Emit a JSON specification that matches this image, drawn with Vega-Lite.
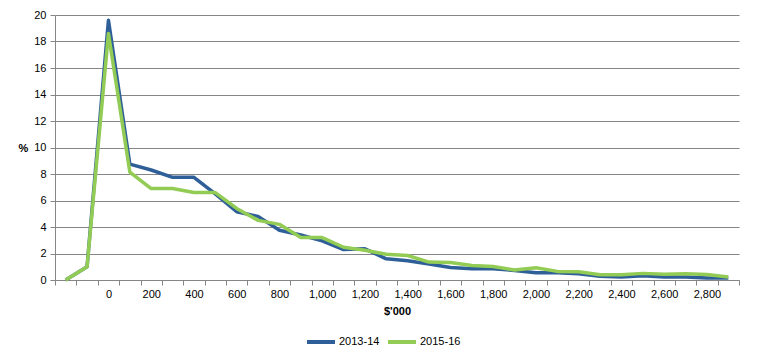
{
  "$schema": "https://vega.github.io/schema/vega-lite/v6.json",
  "width": 684,
  "height": 265,
  "autosize": {"type": "none"},
  "padding": {"left": 55, "top": 15, "right": 18, "bottom": 80},
  "background": "white",
  "config": {
    "font": "Liberation Sans",
    "view": {"stroke": null},
    "axis": {"labelFont": "Liberation Sans", "labelFontSize": 11, "labelColor": "#000000", "domainColor": "#868686", "tickColor": "#868686", "titleFont": "Liberation Sans", "titleFontSize": 11, "titleColor": "#000000", "labelOverlap": false}
  },
  "data": {
    "values": [
      {"x": -200, "series": "2013-14", "v": 0},
      {"x": -100, "series": "2013-14", "v": 1.0},
      {"x": 0, "series": "2013-14", "v": 19.6},
      {"x": 100, "series": "2013-14", "v": 8.75},
      {"x": 200, "series": "2013-14", "v": 8.3},
      {"x": 300, "series": "2013-14", "v": 7.75},
      {"x": 400, "series": "2013-14", "v": 7.75},
      {"x": 500, "series": "2013-14", "v": 6.5},
      {"x": 600, "series": "2013-14", "v": 5.15},
      {"x": 700, "series": "2013-14", "v": 4.8},
      {"x": 800, "series": "2013-14", "v": 3.75},
      {"x": 900, "series": "2013-14", "v": 3.4},
      {"x": 1000, "series": "2013-14", "v": 2.95},
      {"x": 1100, "series": "2013-14", "v": 2.3},
      {"x": 1200, "series": "2013-14", "v": 2.35},
      {"x": 1300, "series": "2013-14", "v": 1.6},
      {"x": 1400, "series": "2013-14", "v": 1.45},
      {"x": 1500, "series": "2013-14", "v": 1.2},
      {"x": 1600, "series": "2013-14", "v": 0.95},
      {"x": 1700, "series": "2013-14", "v": 0.85},
      {"x": 1800, "series": "2013-14", "v": 0.85},
      {"x": 1900, "series": "2013-14", "v": 0.72},
      {"x": 2000, "series": "2013-14", "v": 0.55},
      {"x": 2100, "series": "2013-14", "v": 0.55},
      {"x": 2200, "series": "2013-14", "v": 0.48},
      {"x": 2300, "series": "2013-14", "v": 0.28},
      {"x": 2400, "series": "2013-14", "v": 0.22},
      {"x": 2500, "series": "2013-14", "v": 0.32},
      {"x": 2600, "series": "2013-14", "v": 0.22},
      {"x": 2700, "series": "2013-14", "v": 0.22},
      {"x": 2800, "series": "2013-14", "v": 0.15},
      {"x": 2900, "series": "2013-14", "v": 0.15},
      {"x": -200, "series": "2015-16", "v": 0},
      {"x": -100, "series": "2015-16", "v": 1.0},
      {"x": 0, "series": "2015-16", "v": 18.6},
      {"x": 100, "series": "2015-16", "v": 8.15},
      {"x": 200, "series": "2015-16", "v": 6.9},
      {"x": 300, "series": "2015-16", "v": 6.9},
      {"x": 400, "series": "2015-16", "v": 6.6},
      {"x": 500, "series": "2015-16", "v": 6.6},
      {"x": 600, "series": "2015-16", "v": 5.4},
      {"x": 700, "series": "2015-16", "v": 4.5},
      {"x": 800, "series": "2015-16", "v": 4.2},
      {"x": 900, "series": "2015-16", "v": 3.2},
      {"x": 1000, "series": "2015-16", "v": 3.2},
      {"x": 1100, "series": "2015-16", "v": 2.47},
      {"x": 1200, "series": "2015-16", "v": 2.25},
      {"x": 1300, "series": "2015-16", "v": 1.95},
      {"x": 1400, "series": "2015-16", "v": 1.85},
      {"x": 1500, "series": "2015-16", "v": 1.35},
      {"x": 1600, "series": "2015-16", "v": 1.32},
      {"x": 1700, "series": "2015-16", "v": 1.1},
      {"x": 1800, "series": "2015-16", "v": 1.02},
      {"x": 1900, "series": "2015-16", "v": 0.75},
      {"x": 2000, "series": "2015-16", "v": 0.93},
      {"x": 2100, "series": "2015-16", "v": 0.65},
      {"x": 2200, "series": "2015-16", "v": 0.63},
      {"x": 2300, "series": "2015-16", "v": 0.4},
      {"x": 2400, "series": "2015-16", "v": 0.4},
      {"x": 2500, "series": "2015-16", "v": 0.5},
      {"x": 2600, "series": "2015-16", "v": 0.43},
      {"x": 2700, "series": "2015-16", "v": 0.48},
      {"x": 2800, "series": "2015-16", "v": 0.42},
      {"x": 2900, "series": "2015-16", "v": 0.23}
    ]
  },
  "layer": [
    {
      "mark": {"type": "line", "strokeWidth": 3.5, "strokeJoin": "round"},
      "encoding": {
        "x": {
          "field": "x", "type": "quantitative",
          "scale": {"domain": [-250, 2950], "nice": false, "zero": false},
          "axis": {
            "values": [-250,-150,-50,50,150,250,350,450,550,650,750,850,950,1050,1150,1250,1350,1450,1550,1650,1750,1850,1950,2050,2150,2250,2350,2450,2550,2650,2750,2850,2950],
            "labels": false, "tickSize": 5, "grid": false, "title": null
          }
        },
        "y": {
          "field": "v", "type": "quantitative",
          "scale": {"domain": [0, 20], "nice": false},
          "axis": {
            "values": [0,2,4,6,8,10,12,14,16,18,20],
            "grid": true, "gridColor": "#868686", "gridWidth": 1,
            "tickSize": 5, "labelPadding": 4, "format": "d",
            "title": "%", "titleAngle": 0, "titleFontWeight": "bold",
            "titleX": -32, "titleY": 133, "titleBaseline": "middle", "titleAlign": "center"
          }
        },
        "color": {
          "field": "series", "type": "nominal",
          "scale": {"domain": ["2013-14", "2015-16"], "range": ["#2F5F98", "#92CC55"]},
          "legend": {
            "orient": "none", "legendX": 250, "legendY": 311,
            "direction": "horizontal", "title": null,
            "symbolType": "stroke", "symbolSize": 784, "symbolStrokeWidth": 4,
            "labelFont": "Liberation Sans", "labelFontSize": 11, "labelColor": "#000000",
            "columnPadding": 0, "labelOffset": 2
          }
        }
      }
    },
    {
      "mark": {"type": "line", "opacity": 0},
      "encoding": {
        "x": {
          "field": "x", "type": "quantitative",
          "axis": {
            "orient": "bottom",
            "values": [0,200,400,600,800,1000,1200,1400,1600,1800,2000,2200,2400,2600,2800],
            "format": ",d", "ticks": false, "domain": false, "labelPadding": 8,
            "title": "$'000", "titleFontWeight": "bold", "titlePadding": 6
          }
        },
        "y": {"field": "v", "type": "quantitative", "axis": null}
      }
    }
  ],
  "resolve": {"axis": {"x": "independent", "y": "independent"}}
}
